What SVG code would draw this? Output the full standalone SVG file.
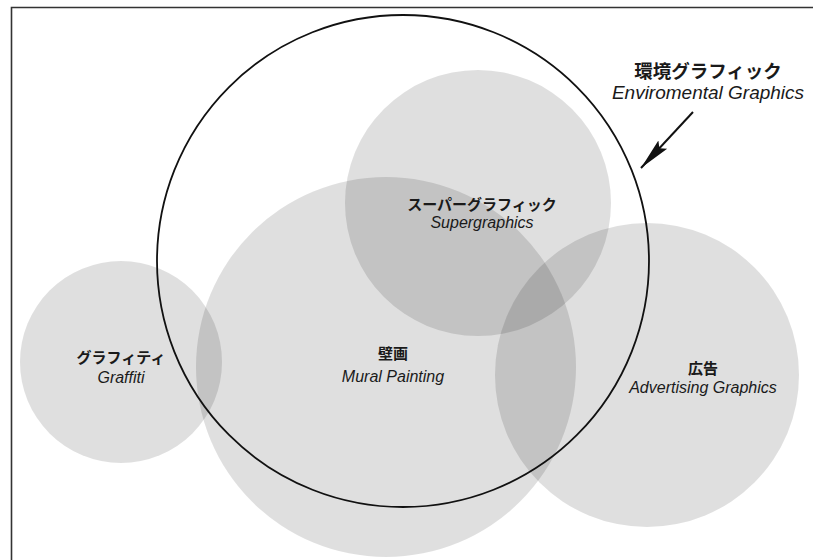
<svg xmlns="http://www.w3.org/2000/svg" width="813" height="560" viewBox="0 0 813 560">
  <style>
    .blob { fill: #000; fill-opacity: 0.125; stroke: none; }
    .outline { fill: none; stroke: #111; stroke-width: 1.8; }
    .jp { font-family: "Noto Sans CJK JP", "Noto Sans", sans-serif; font-weight: bold; font-size: 15px; fill: #1a1a1a; text-anchor: middle; }
    .en { font-family: "Liberation Sans", Arial, sans-serif; font-style: italic; font-size: 16px; fill: #1a1a1a; text-anchor: middle; }
    .frame { fill: none; stroke: #333; stroke-width: 1.6; }
    .conn { stroke: #111; stroke-width: 2; fill: none; }
  </style>
  <defs>
    <marker id="arrow" markerUnits="userSpaceOnUse" markerWidth="34" markerHeight="14" refX="32" refY="7" orient="auto">
      <path d="M0,1 L32,7 L0,13 L5,7 z" fill="#111"/>
    </marker>
  </defs>
  <rect x="0" y="0" width="813" height="560" fill="#fff"/>
  <path class="frame" d="M11.5,560 L11.5,7.5 L813,7.5"/>

  <g id="graffiti">
    <circle class="blob" cx="121" cy="362" r="101"/>
    <text class="jp" x="121" y="363">グラフィティ</text>
    <text class="en" x="121" y="383">Graffiti</text>
  </g>
  <g id="mural">
    <circle class="blob" cx="386" cy="367" r="190"/>
    <text class="jp" x="393" y="359">壁画</text>
    <text class="en" x="393" y="382">Mural Painting</text>
  </g>
  <g id="supergraphics">
    <circle class="blob" cx="478" cy="203" r="133"/>
    <text class="jp" x="482" y="210">スーパーグラフィック</text>
    <text class="en" x="482" y="228">Supergraphics</text>
  </g>
  <g id="advertising">
    <circle class="blob" cx="647" cy="375" r="152"/>
    <text class="jp" x="703" y="374">広告</text>
    <text class="en" x="703" y="393">Advertising Graphics</text>
  </g>
  <g id="environmental">
    <circle class="outline" cx="403" cy="261" r="246"/>
    <text class="jp" x="708" y="78" style="font-size:18.5px">環境グラフィック</text>
    <text class="en" x="708" y="99" style="font-size:19px">Enviromental Graphics</text>
  </g>

  <g id="connectors">
    <line class="conn" x1="693" y1="112" x2="641" y2="168" marker-end="url(#arrow)"/>
  </g>
</svg>
